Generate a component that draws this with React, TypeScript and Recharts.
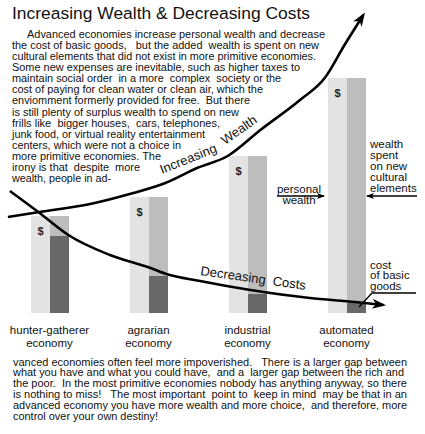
import React from 'react';
import { ComposedChart, Bar, Line, XAxis, YAxis, LabelList } from 'recharts';

// ---- data ----
const categories = ['hunter-gatherer economy', 'agrarian economy', 'industrial economy', 'automated economy'];
const personalWealth = [97, 116, 157, 235];
const costOfBasicGoods = [77, 37, 19, 10];
const culturalSpending = [20, 79, 138, 225];

// curves: x = economic stage (0..3), y = same units as bars
const wealthStage = [-0.42, -0.1, 0.41, 0.81, 1.17, 1.49, 1.8, 2.13, 2.53, 2.78, 2.98, 3.17];
const wealthLevel = [96, 101, 109, 119, 130, 145, 157, 183, 213, 235, 268, 298];
const costStage = [-0.4, -0.1, 0.19, 0.61, 1.02, 1.18, 1.52, 2.03, 2.63, 3.09, 3.37];
const costLevel = [122, 100, 78, 58, 45, 39, 32, 23, 15, 11, 8];

const title = 'Increasing Wealth & Decreasing Costs';
const topLines = [
  'Advanced economies increase personal wealth and decrease',
  'the cost of basic goods,   but the added  wealth is spent on new',
  'cultural elements that did not exist in more primitive economies.',
  'Some new expenses are inevitable, such as higher taxes to',
  'maintain social order  in a more  complex  society or the',
  'cost of paying for clean water or clean air, which the',
  'enviomment formerly provided for free.  But there',
  'is still plenty of surplus wealth to spend on new',
  'frills like  bigger houses,  cars, telephones,',
  'junk food, or virtual reality entertainment',
  'centers, which were not a choice in',
  'more primitive economies. The',
  'irony is that  despite  more',
  'wealth, people in ad-',
];
const topLineEnds = [325, 319, 316, 300, 281, 263, 250, 239, 220, 205, 181, 161, 140, 111];
const bottomLines = [
  'vanced economies often feel more impoverished.   There is a larger gap between',
  'what you have and what you could have,  and a  larger gap between the rich and',
  'the poor.  In the most primitive economies nobody has anything anyway, so there',
  'is nothing to miss!   The most important  point to  keep in mind  may be that in an',
  'advanced economy you have more wealth and more choice,  and therefore, more',
  'control over your own destiny!',
];
const bottomLineEnds = [407, 404, 407, 407, 407, 158];
const personalLabel = ['personal', 'wealth'];
const culturalLabel = ['wealth', 'spent', 'on new', 'cultural', 'elements'];
const costLabel = ['cost', 'of basic', 'goods'];

const barData = categories.map((name, i) => ({
  name,
  wealth: personalWealth[i],
  cost: costOfBasicGoods[i],
  cultural: culturalSpending[i],
}));
const wealthLine = wealthStage.map((s, i) => ({ s, v: wealthLevel[i] }));
const costLine = costStage.map((s, i) => ({ s, v: costLevel[i] }));

const FONT = '"Liberation Sans", Arial, Helvetica, sans-serif';
const INK = '#111';

const CategoryTick = (props: any) => {
  const { x, y, payload } = props;
  const words = String(payload.value).split(' ');
  const last = words.pop();
  return (
    <text x={x} y={y} textAnchor="middle" fontFamily={FONT} fontSize={11.5} fill={INK}>
      <tspan x={x} dy={13}>{words.join(' ')}</tspan>
      <tspan x={x} dy={13}>{last}</tspan>
    </text>
  );
};

export default function App() {
  return (
    <div style={{ position: 'absolute', left: 0, top: 0, width: 425, height: 434, background: '#fff', overflow: 'hidden' }}>
      <svg width={0} height={0} style={{ position: 'absolute' }}>
        <defs>
          <marker id="bigArrow" markerUnits="userSpaceOnUse" markerWidth={16} markerHeight={12} refX={11} refY={5} orient="auto">
            <path d="M0,0 L14,5 L0,10 L4,5 z" fill="#000" />
          </marker>
          <marker id="smallArrow" markerUnits="userSpaceOnUse" markerWidth={10} markerHeight={8} refX={7} refY={3} orient="auto">
            <path d="M0,0 L8,3 L0,6 L2,3 z" fill="#000" />
          </marker>
        </defs>
      </svg>
      <ComposedChart
        width={425}
        height={434}
        data={barData}
        margin={{ top: 3, right: 29, bottom: 81, left: 0 }}
        barGap={0}
      >
        <XAxis xAxisId="cat" dataKey="name" height={40} axisLine={false} tickLine={false} interval={0} tick={<CategoryTick />} />
        <XAxis xAxisId="stage" dataKey="s" type="number" domain={[-0.5, 3.5]} allowDataOverflow hide />
        <YAxis domain={[0, 310]} allowDataOverflow hide />
        <Bar xAxisId="cat" dataKey="wealth" stackId="w" fill="#e3e3e3" barSize={19} isAnimationActive={false}>
          <LabelList dataKey="wealth" content={(p: any) => (
            <text x={p.x + p.width / 2} y={p.y + 19} textAnchor="middle" fontFamily={FONT} fontSize={11} fontWeight="bold" fill="#222">$</text>
          )} />
        </Bar>
        <Bar xAxisId="cat" dataKey="cost" stackId="s" fill="#686868" barSize={19} isAnimationActive={false} />
        <Bar xAxisId="cat" dataKey="cultural" stackId="s" fill="#bdbdbd" barSize={19} isAnimationActive={false} />
        <Line xAxisId="stage" data={wealthLine} dataKey="v" type="monotone" stroke="#000" strokeWidth={2.6} dot={false} markerEnd="url(#bigArrow)" isAnimationActive={false} />
        <Line xAxisId="stage" data={costLine} dataKey="v" type="monotone" stroke="#000" strokeWidth={2.6} dot={false} markerEnd="url(#bigArrow)" isAnimationActive={false} />
      </ComposedChart>
      <svg width={425} height={434} style={{ position: 'absolute', left: 0, top: 0, pointerEvents: 'none' }} fontFamily={FONT} fill={INK}>
        <text x={12} y={18.5} fontSize={17.4} textLength={298} lengthAdjust="spacingAndGlyphs">{title}</text>
        {topLines.map((t, i) => {
          const x0 = i === 0 ? 27 : 12;
          return (
            <text key={i} x={x0} y={38 + 11.08 * i} fontSize={11} textLength={topLineEnds[i] - x0} lengthAdjust="spacingAndGlyphs" style={{ whiteSpace: 'pre' }}>{t}</text>
          );
        })}
        {bottomLines.map((t, i) => (
          <text key={i} x={13} y={365.5 + 10.9 * i} fontSize={11} textLength={bottomLineEnds[i] - 13} lengthAdjust="spacingAndGlyphs" style={{ whiteSpace: 'pre' }}>{t}</text>
        ))}
        <text x={162} y={174} fontSize={13} transform="rotate(-22 162 174)">Increasing</text>
        <text x={225} y={145} fontSize={13} transform="rotate(-35 225 145)">Wealth</text>
        <text x={200} y={275} fontSize={13} transform="rotate(8 200 275)" style={{ whiteSpace: 'pre' }}>Decreasing  Costs</text>
        {personalLabel.map((t, i) => (
          <text key={i} x={299} y={192.5 + 11 * i} fontSize={11.5} textAnchor="middle">{t}</text>
        ))}
        <line x1={277} y1={196} x2={324} y2={196} stroke="#000" strokeWidth={1.3} markerEnd="url(#smallArrow)" />
        {culturalLabel.map((t, i) => (
          <text key={i} x={370} y={147.5 + 11 * i} fontSize={11.5}>{t}</text>
        ))}
        <line x1={417} y1={196} x2={367} y2={196} stroke="#000" strokeWidth={1.3} markerEnd="url(#smallArrow)" />
        {costLabel.map((t, i) => (
          <text key={i} x={370} y={268.5 + 10.5 * i} fontSize={11.5}>{t}</text>
        ))}
        <polyline points="416,293 372,293 359,307" fill="none" stroke="#000" strokeWidth={1.3} />
      </svg>
    </div>
  );
}
